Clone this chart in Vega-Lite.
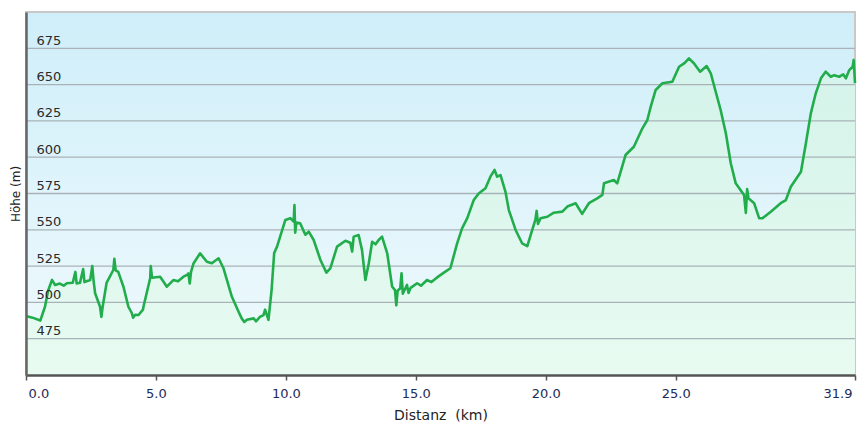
{
  "$schema": "https://vega.github.io/schema/vega-lite/v6.json",
  "width": 829,
  "height": 363,
  "autosize": {"type": "none"},
  "padding": {"left": 26, "top": 12, "right": 7, "bottom": 55},
  "background": "#ffffff",
  "config": {
    "view": {"stroke": null},
    "font": "DejaVu Sans"
  },
  "datasets": {
    "profile": [
      {"d": 0.00, "h": 490.6}, {"d": 0.25, "h": 489.5}, {"d": 0.55, "h": 487.5}, {"d": 0.73, "h": 497},
      {"d": 0.85, "h": 508}, {"d": 1.0, "h": 515.5}, {"d": 1.12, "h": 512}, {"d": 1.3, "h": 513},
      {"d": 1.45, "h": 511.5}, {"d": 1.57, "h": 513.2}, {"d": 1.8, "h": 513.5}, {"d": 1.9, "h": 521}, {"d": 1.95, "h": 513},
      {"d": 2.08, "h": 513.6}, {"d": 2.2, "h": 523}, {"d": 2.25, "h": 514}, {"d": 2.47, "h": 515.4},
      {"d": 2.55, "h": 525}, {"d": 2.6, "h": 515}, {"d": 2.66, "h": 506.3}, {"d": 2.85, "h": 497},
      {"d": 2.9, "h": 490}, {"d": 2.95, "h": 497}, {"d": 3.1, "h": 513.4}, {"d": 3.36, "h": 522.3},
      {"d": 3.4, "h": 530}, {"d": 3.45, "h": 522}, {"d": 3.55, "h": 521}, {"d": 3.75, "h": 510.8},
      {"d": 3.94, "h": 497}, {"d": 4.07, "h": 492.7}, {"d": 4.12, "h": 489.5}, {"d": 4.2, "h": 491.5}, {"d": 4.33, "h": 491.3},
      {"d": 4.5, "h": 495}, {"d": 4.52, "h": 497}, {"d": 4.78, "h": 516.8}, {"d": 4.8, "h": 525},
      {"d": 4.85, "h": 517}, {"d": 5.16, "h": 517.7}, {"d": 5.3, "h": 514}, {"d": 5.42, "h": 510.8},
      {"d": 5.67, "h": 515.4}, {"d": 5.85, "h": 514.5}, {"d": 6.06, "h": 517.7}, {"d": 6.2, "h": 519}, {"d": 6.25, "h": 520},
      {"d": 6.3, "h": 513}, {"d": 6.35, "h": 521}, {"d": 6.45, "h": 527}, {"d": 6.7, "h": 533.8},
      {"d": 6.96, "h": 528}, {"d": 7.15, "h": 527}, {"d": 7.41, "h": 530.4}, {"d": 7.6, "h": 523.5},
      {"d": 7.92, "h": 504}, {"d": 8.18, "h": 493.6}, {"d": 8.3, "h": 489}, {"d": 8.4, "h": 486.5}, {"d": 8.5, "h": 488},
      {"d": 8.76, "h": 489}, {"d": 8.85, "h": 487}, {"d": 9.0, "h": 490}, {"d": 9.14, "h": 491.3}, {"d": 9.2, "h": 495},
      {"d": 9.33, "h": 488}, {"d": 9.45, "h": 508.5}, {"d": 9.55, "h": 534}, {"d": 9.66, "h": 538.4},
      {"d": 9.98, "h": 556.8}, {"d": 10.17, "h": 558}, {"d": 10.3, "h": 555.6}, {"d": 10.33, "h": 567},
      {"d": 10.36, "h": 548}, {"d": 10.4, "h": 555}, {"d": 10.55, "h": 554.5}, {"d": 10.75, "h": 546.6},
      {"d": 10.88, "h": 548.7}, {"d": 11.07, "h": 543}, {"d": 11.33, "h": 529.2}, {"d": 11.56, "h": 520.5},
      {"d": 11.71, "h": 523.5}, {"d": 11.97, "h": 538.4}, {"d": 12.29, "h": 542.5}, {"d": 12.48, "h": 541.1},
      {"d": 12.55, "h": 535}, {"d": 12.61, "h": 545.3}, {"d": 12.8, "h": 546.4}, {"d": 12.93, "h": 536},
      {"d": 13.06, "h": 515.4}, {"d": 13.19, "h": 527}, {"d": 13.32, "h": 541.8}, {"d": 13.45, "h": 540},
      {"d": 13.57, "h": 543}, {"d": 13.7, "h": 545.3}, {"d": 13.9, "h": 533.8}, {"d": 14.09, "h": 510.8},
      {"d": 14.2, "h": 508.5}, {"d": 14.25, "h": 498}, {"d": 14.3, "h": 508}, {"d": 14.4, "h": 509.7},
      {"d": 14.45, "h": 520}, {"d": 14.5, "h": 506}, {"d": 14.66, "h": 512}, {"d": 14.72, "h": 506.5}, {"d": 14.8, "h": 510},
      {"d": 15.05, "h": 513.2}, {"d": 15.2, "h": 511.5}, {"d": 15.43, "h": 515.4}, {"d": 15.6, "h": 514}, {"d": 15.82, "h": 517.2}, {"d": 16.08, "h": 520.5},
      {"d": 16.33, "h": 523.5}, {"d": 16.59, "h": 540.7}, {"d": 16.78, "h": 551}, {"d": 16.98, "h": 558},
      {"d": 17.23, "h": 570.5}, {"d": 17.42, "h": 575}, {"d": 17.68, "h": 578.6}, {"d": 17.87, "h": 586.6},
      {"d": 18.03, "h": 591.2}, {"d": 18.13, "h": 586.6}, {"d": 18.26, "h": 587.7}, {"d": 18.45, "h": 576.2},
      {"d": 18.58, "h": 563.6}, {"d": 18.84, "h": 549.9}, {"d": 19.09, "h": 540.7}, {"d": 19.29, "h": 538.8},
      {"d": 19.48, "h": 550}, {"d": 19.6, "h": 556.8}, {"d": 19.65, "h": 563}, {"d": 19.7, "h": 554},
      {"d": 19.8, "h": 558}, {"d": 20.06, "h": 559}, {"d": 20.31, "h": 561.8}, {"d": 20.64, "h": 562.5},
      {"d": 20.83, "h": 566}, {"d": 21.15, "h": 568.3}, {"d": 21.4, "h": 561}, {"d": 21.66, "h": 568.3},
      {"d": 21.98, "h": 571.7}, {"d": 22.18, "h": 574}, {"d": 22.24, "h": 582}, {"d": 22.62, "h": 584.3},
      {"d": 22.75, "h": 582}, {"d": 23.07, "h": 601.5}, {"d": 23.39, "h": 607.2}, {"d": 23.72, "h": 619.9},
      {"d": 23.91, "h": 625.6}, {"d": 24.04, "h": 634.8}, {"d": 24.23, "h": 646.3}, {"d": 24.49, "h": 650.9},
      {"d": 24.87, "h": 652}, {"d": 25.13, "h": 662.3}, {"d": 25.35, "h": 665}, {"d": 25.51, "h": 668.1},
      {"d": 25.7, "h": 664.7}, {"d": 25.94, "h": 658.9}, {"d": 26.19, "h": 662.8}, {"d": 26.35, "h": 657.8},
      {"d": 26.54, "h": 645.1}, {"d": 26.73, "h": 632.5}, {"d": 26.93, "h": 616.5}, {"d": 27.12, "h": 595.8},
      {"d": 27.31, "h": 582}, {"d": 27.63, "h": 574}, {"d": 27.7, "h": 561.6}, {"d": 27.75, "h": 578},
      {"d": 27.8, "h": 571.7}, {"d": 28.02, "h": 568.3}, {"d": 28.21, "h": 558}, {"d": 28.34, "h": 558},
      {"d": 28.66, "h": 562.5}, {"d": 29.04, "h": 568.3}, {"d": 29.24, "h": 570.5}, {"d": 29.43, "h": 579.7},
      {"d": 29.82, "h": 590}, {"d": 30.01, "h": 609.6}, {"d": 30.2, "h": 630.2}, {"d": 30.39, "h": 644},
      {"d": 30.59, "h": 654.3}, {"d": 30.77, "h": 658.9}, {"d": 30.97, "h": 655.4}, {"d": 31.1, "h": 656.5}, {"d": 31.29, "h": 655.4},
      {"d": 31.45, "h": 657}, {"d": 31.55, "h": 654.3}, {"d": 31.68, "h": 660}, {"d": 31.81, "h": 662.3}, {"d": 31.85, "h": 667},
      {"d": 31.9, "h": 651}
    ],
    "grid": [{"g": 475}, {"g": 500}, {"g": 525}, {"g": 550}, {"g": 575}, {"g": 600}, {"g": 625}, {"g": 650}, {"g": 675}]
  },
  "layer": [
    {
      "data": {"values": [{}]},
      "mark": {
        "type": "rect",
        "stroke": "#c8c8c8",
        "strokeWidth": 2,
        "fill": {
          "gradient": "linear", "x1": 0, "y1": 0, "x2": 0, "y2": 1,
          "stops": [{"offset": 0, "color": "#cfeef9"}, {"offset": 1, "color": "#f0fafd"}]
        }
      },
      "encoding": {
        "x": {"datum": 0, "type": "quantitative", "scale": {"domain": [0, 31.9], "nice": false, "zero": false}, "title": "Distanz\u00a0\u00a0(km)"},
        "x2": {"datum": 31.9},
        "y": {"datum": 450, "type": "quantitative", "scale": {"domain": [450, 700], "nice": false, "zero": false}, "title": "Höhe (m)"},
        "y2": {"datum": 700}
      }
    },
    {
      "data": {"name": "profile"},
      "mark": {
        "type": "area",
        "fill": {
          "gradient": "linear", "x1": 0, "y1": 0, "x2": 0, "y2": 1,
          "stops": [{"offset": 0, "color": "#d4f3ea"}, {"offset": 1, "color": "#e8fbf1"}]
        }
      },
      "encoding": {
        "x": {"field": "d", "type": "quantitative", "title": "Distanz\u00a0\u00a0(km)"},
        "y": {"field": "h", "type": "quantitative", "title": "Höhe (m)"},
        "y2": {"datum": 450}
      }
    },
    {
      "data": {"name": "grid"},
      "mark": {"type": "rule", "color": "#a9b3b7", "strokeWidth": 1.3},
      "encoding": {
        "y": {"field": "g", "type": "quantitative", "title": "Höhe (m)"}
      }
    },
    {
      "data": {"name": "profile"},
      "mark": {"type": "line", "color": "#22ad4c", "strokeWidth": 2.6, "strokeJoin": "round"},
      "encoding": {
        "x": {
          "field": "d", "type": "quantitative", "title": "Distanz\u00a0\u00a0(km)",
          "axis": {
            "zindex": 1,
            "grid": false,
            "values": [0, 5, 10, 15, 20, 25, 31.9],
            "format": ".1f",
            "domainColor": "#555555",
            "domainWidth": 2.5,
            "tickColor": "#555555",
            "tickSize": 5,
            "tickWidth": 1.5,
            "labelPadding": 7,
            "labelFont": "DejaVu Sans",
            "labelFontSize": 13,
            "labelColor": "#1e2a5a",
            "labelBound": false,
            "labelFlush": false,
            "labelOverlap": false,
            "labelAlign": {"expr": "datum.value == 0 ? 'left' : (datum.value > 31 ? 'right' : 'center')"},
            "labelOffset": {"expr": "datum.value == 0 ? 2 : (datum.value > 31 ? -3 : 0)"},
            "titleFont": "DejaVu Sans",
            "titleFontSize": 14,
            "titleFontWeight": "normal",
            "titleColor": "#222222",
            "titleY": 40,
            "titleBaseline": "middle"
          }
        },
        "y": {
          "field": "h", "type": "quantitative", "title": "Höhe (m)",
          "axis": {
            "zindex": 1,
            "grid": false,
            "ticks": false,
            "tickSize": 0,
            "values": [475, 500, 525, 550, 575, 600, 625, 650, 675],
            "domainColor": "#666666",
            "domainWidth": 2.5,
            "labelPadding": -10,
            "labelAlign": "left",
            "labelBaseline": "alphabetic",
            "labelOffset": -4,
            "labelFont": "DejaVu Sans",
            "labelFontSize": 13,
            "labelColor": "#2a2a2a",
            "labelBound": false,
            "labelFlush": false,
            "titleFont": "DejaVu Sans",
            "titleFontSize": 12,
            "titleFontWeight": "normal",
            "titleColor": "#222222",
            "titleX": -11,
            "titleY": 181.5,
            "titleAngle": -90,
            "titleAlign": "center",
            "titleBaseline": "middle"
          }
        }
      }
    }
  ]
}
